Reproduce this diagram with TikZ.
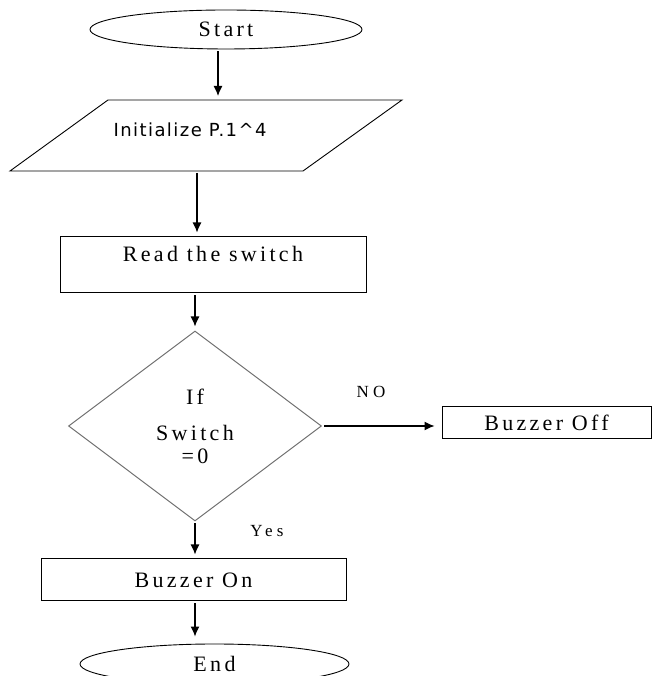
\documentclass[tikz,border=0pt]{standalone}
\usepackage{fontspec}
\usepackage{tikz}
\usetikzlibrary{shapes.geometric,arrows.meta}

\newfontfamily\boxfont{Liberation Serif}[LetterSpace=15]
\newfontfamily\tagfont{Liberation Serif}[LetterSpace=25]
\newfontfamily\parafont{DejaVu Sans}[LetterSpace=8]

\tikzset{
  term/.style={draw, ellipse, inner sep=0pt, line width=0.9pt,
    font=\boxfont\fontsize{22}{26}\selectfont},
  proc/.style={draw, rectangle, inner sep=0pt, line width=1pt,
    font=\boxfont\fontsize{22}{26}\selectfont},
  cond/.style={draw=black!55, diamond, inner sep=0pt, line width=1pt, align=center,
    font=\boxfont\fontsize{22}{23}\selectfont},
  tag/.style={font=\tagfont\fontsize{17}{20}\selectfont},
  arr/.style={-{Latex[length=10pt,width=9pt]}, line width=1.2pt,
    shorten <=2pt, shorten >=4pt}
}

\begin{document}
\begin{tikzpicture} [x=1pt, y=1pt]

\useasboundingbox (0,0) rectangle (652,676);

\node [term, minimum width=272, minimum height=39] (start) at (226,646.5) {Start};

% input box
\draw [line width=0.9pt] (10,505) -- (108,576) -- (402,576) -- (303,505) -- cycle;
\node [anchor=west, font=\parafont\fontsize{18}{21}\selectfont] (init) at (110,546) {Initialize P.1\^{}4};
\coordinate (initin) at (218,576);
\coordinate (initout) at (197,505);

\node [proc, minimum width=306, minimum height=56, text depth=23pt] (read) at (213,411) {Read the switch};
\node [cond, minimum width=253, minimum height=190] (test) at (195,250) {If\\[13pt]Switch\\=0};
\node [proc, minimum width=209, minimum height=32] (off) at (546.5,253) {Buzzer Off};
\node [proc, minimum width=305, minimum height=42] (on) at (193.5,96) {Buzzer On};
\node [term, minimum width=269, minimum height=40] (end) at (214.5,12) {End};

\draw [arr] (start.south -| initin) -- (initin);
\draw [arr] (initout) -- (initout |- read.north);
\draw [arr] (read.south -| test.north) -- (test.north);
\draw [arr, shorten >=7pt] (test.east) -- (test.east -| off.west);
\draw [arr] (test.south) -- (test.south |- on.north);
\draw [arr, shorten >=7pt] (on.south -| test.south) -- (test.south |- end.north);

\node [tag] (no) at (371,284) {NO};
\node [tag] (yes) at (267,145) {Yes};

\end{tikzpicture}
\end{document}
